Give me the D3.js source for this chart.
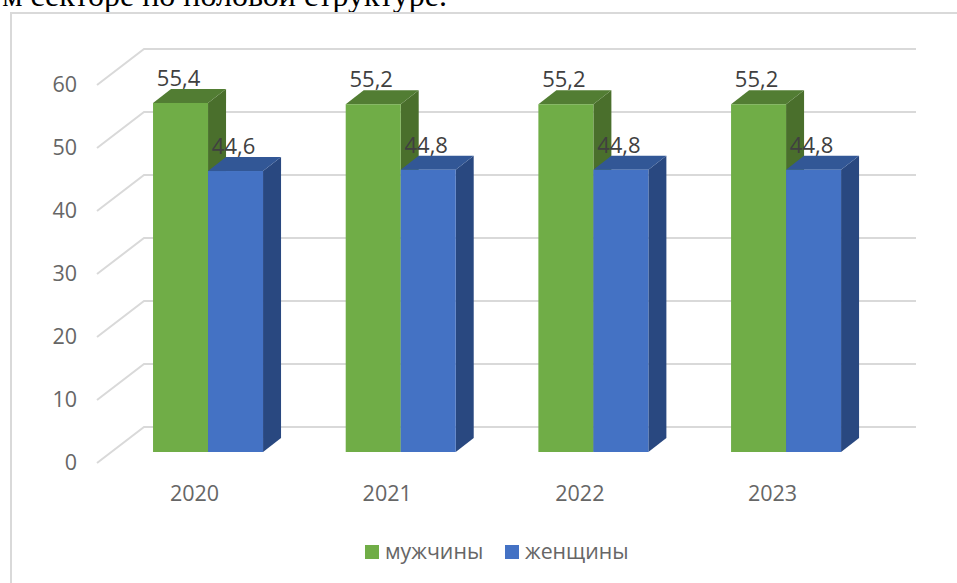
<!DOCTYPE html>
<html>
<head>
<meta charset="utf-8">
<script src="https://cdn.jsdelivr.net/npm/d3@7"></script>
<style>
html,body{margin:0;padding:0;background:#fff;overflow:hidden}
svg{display:block}
text{font-family:"Open Sans",sans-serif}
</style>
</head>
<body>
<svg id="chart" width="957" height="583"></svg>
<script>
const years = ["2020", "2021", "2022", "2023"];
const seriesNames = ["мужчины", "женщины"];
const men = [55.4, 55.2, 55.2, 55.2];
const women = [44.6, 44.8, 44.8, 44.8];
const yTicks = [0, 10, 20, 30, 40, 50, 60];
const headingText = "м секторе по половой структуре.";
const seriesColors = {
  "мужчины": {front: "#70ad47", top: "#527d33", side: "#4a6f2c"},
  "женщины": {front: "#4472c4", top: "#325796", side: "#294880"}
};

const W = 957, H = 583;
const depthX = 18, depthY = -14;
const svg = d3.select("#chart");

// frame and clipped heading line
svg.append("text").attr("x", 447).attr("y", 6).attr("text-anchor", "end")
  .style("font-family", '"Liberation Serif",serif').style("font-size", "32px").attr("fill", "#000")
  .text(headingText);
svg.append("path").attr("d", d3.line()([[11, H], [11, 13], [W, 13]]))
  .attr("fill", "none").attr("stroke", "#d9d9d9").attr("stroke-width", 2);

// scales
const yBar = d3.scaleLinear().domain([0, 60]).range([452, 74]);
const yBack = d3.scaleLinear().domain([0, 60]).range([427, 49]);
const yFloor = d3.scaleLinear().domain([0, 60]).range([463, 85]);
const x0 = d3.scaleBand().domain(years).range([111.7, 882.4]);
const x1 = d3.scaleBand().domain(seriesNames).range([0, x0.bandwidth()]).paddingInner(0).paddingOuter(0.7515);

// gridlines with floor segment
const grid = svg.append("g").attr("fill", "none").attr("stroke", "#d9d9d9").attr("stroke-width", 2);
grid.selectAll("path").data(yTicks).join("path")
  .attr("d", d => d3.line()([[97, yFloor(d)], [144, yBack(d)], [916, yBack(d)]]));

// value axis labels
svg.append("g").selectAll("text").data(yTicks).join("text")
  .attr("x", 77).attr("y", d => yFloor(d) + 7).attr("text-anchor", "end")
  .attr("fill", "#666").style("font-size", "21.5px").text(d => d);

// bars
const rows = seriesNames.flatMap((s, si) => years.map((yr, i) => ({
  s, yr, v: (si === 0 ? men : women)[i]
})));
const bars = svg.append("g").selectAll("g").data(rows).join("g");
const bx = d => x0(d.yr) + x1(d.s);
const w = x1.bandwidth();
bars.append("path").attr("fill", d => seriesColors[d.s].side)
  .attr("d", d => d3.line()([[bx(d) + w, yBar(d.v)], [bx(d) + w + depthX, yBar(d.v) + depthY],
    [bx(d) + w + depthX, yBar(0) + depthY], [bx(d) + w, yBar(0)]]) + "Z");
bars.append("path").attr("fill", d => seriesColors[d.s].top)
  .attr("d", d => d3.line()([[bx(d), yBar(d.v)], [bx(d) + depthX, yBar(d.v) + depthY],
    [bx(d) + w + depthX, yBar(d.v) + depthY], [bx(d) + w, yBar(d.v)]]) + "Z");
bars.append("rect").attr("fill", d => seriesColors[d.s].front)
  .attr("x", bx).attr("y", d => yBar(d.v)).attr("width", w).attr("height", d => yBar(0) - yBar(d.v));

// data labels
svg.append("g").selectAll("text").data(rows).join("text")
  .attr("x", d => bx(d) + w / 2 - 2).attr("y", d => yBar(d.v) - 17).attr("text-anchor", "middle")
  .attr("fill", "#404040").style("font-size", "22px")
  .text(d => String(d.v).replace(".", ","));

// category labels
svg.append("g").selectAll("text").data(years).join("text")
  .attr("x", d => x0(d) + x0.bandwidth() / 2 - 13.5).attr("y", 501).attr("text-anchor", "middle")
  .attr("fill", "#666").style("font-size", "21.5px").text(d => d);

// legend
const legendX = d3.scaleOrdinal().domain(seriesNames).range([365, 505]);
const legend = svg.append("g").selectAll("g").data(seriesNames).join("g");
legend.append("rect").attr("x", d => legendX(d)).attr("y", 545).attr("width", 14).attr("height", 14)
  .attr("fill", d => seriesColors[d].front);
legend.append("text").attr("x", d => legendX(d) + 20).attr("y", 559)
  .attr("fill", "#666").style("font-size", "21.3px").text(d => d);
</script>
</body>
</html>
